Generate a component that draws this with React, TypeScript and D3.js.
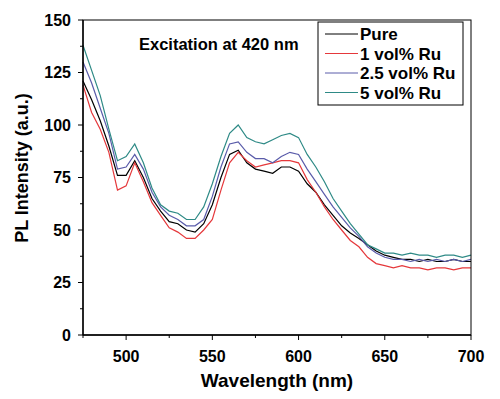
import React from 'react';
import * as d3 from 'd3';

const wavelengths = [
  475, 480, 485, 490, 495, 500, 505, 510, 515, 520, 525, 530, 535, 540, 545, 550,
  555, 560, 565, 570, 575, 580, 585, 590, 595, 600, 605, 610, 615, 620, 625, 630,
  635, 640, 645, 650, 655, 660, 665, 670, 675, 680, 685, 690, 695, 700,
];

const pure = [
  121, 112, 102, 90, 76, 76, 83, 75, 65, 59, 54, 53, 50, 49, 53, 62,
  75, 86, 88, 82, 79, 78, 77, 80, 80, 78, 72, 68, 62, 57, 52, 48.6,
  46, 43, 40, 38, 37, 36, 36, 35, 36, 35, 35, 36, 35, 35,
];
const ru1 = [
  119, 106, 98, 87, 69, 71, 82, 73, 63, 57, 51, 49, 46, 46, 50, 55,
  69, 82, 87, 83, 80, 81, 82, 83, 83, 82, 74, 68, 61, 55, 50, 45,
  42, 37, 34, 33, 32, 33, 32, 32, 31, 32, 32, 31, 32, 32,
];
const ru25 = [
  130, 120, 108, 96, 79, 80, 86, 79, 68, 61, 57, 55, 52, 52, 55, 66,
  80, 91, 92, 87, 84, 84, 82, 85, 87, 86, 79, 73, 67, 61, 56, 51,
  47, 42, 39, 37, 36, 36, 35, 36, 35, 36, 35, 36, 35, 36,
];
const ru5 = [
  138, 126, 114, 98, 83, 85, 91, 82, 70, 62, 59, 58, 55, 55, 61, 72,
  85, 96, 100, 94, 92, 91, 93, 95, 96, 94, 86, 80, 73, 65, 59, 53,
  48, 43, 41, 39, 39, 38, 39, 38, 38, 37, 38, 38, 37, 38,
];

const seriesNames = ['Pure', '1 vol% Ru', '2.5 vol% Ru', '5 vol% Ru'];
const seriesColors = ['#000000', '#e5383b', '#5a5caa', '#2e8a86'];
const seriesValues = [pure, ru1, ru25, ru5];

const xTicks = [500, 550, 600, 650, 700];
const xMinor = [475, 525, 575, 625, 675];
const yTicks = [0, 25, 50, 75, 100, 125, 150];
const yMinor = [12.5, 37.5, 62.5, 87.5, 112.5, 137.5];

const font = '"Liberation Sans", Arial, Helvetica, sans-serif';

export default function App() {
  const left = 83;
  const right = 471;
  const top = 20;
  const bottom = 335;

  const x = d3.scaleLinear().domain([475, 700]).range([left, right]);
  const y = d3.scaleLinear().domain([0, 150]).range([bottom, top]);

  const line = d3
    .line<number>()
    .x((_, i) => x(wavelengths[i]))
    .y((d) => y(d));

  return (
    <svg
      width={500}
      height={399}
      style={{ position: 'absolute', left: 0, top: 0, background: '#fff' }}
      fontFamily={font}
    >
      <rect x={0} y={0} width={500} height={399} fill="#fff" />

      {/* curves */}
      <g fill="none" strokeWidth={1.2}>
        {seriesValues.map((vals, i) => (
          <path key={i} d={line(vals) || ''} stroke={seriesColors[i]} />
        ))}
      </g>

      {/* frame */}
      <rect x={left} y={top} width={right - left} height={bottom - top} fill="none" stroke="#000" strokeWidth={1} />
      <line x1={left} x2={right} y1={bottom} y2={bottom} stroke="#000" strokeWidth={1.4} />
      <line x1={left} x2={left} y1={top} y2={bottom} stroke="#000" strokeWidth={1.4} />

      {/* x ticks */}
      {xTicks.map((t) => (
        <g key={t}>
          <line x1={x(t)} x2={x(t)} y1={bottom} y2={bottom + 5} stroke="#000" strokeWidth={1} />
          <text x={x(t)} y={362} textAnchor="middle" fontSize={16} fontWeight="bold">
            {t}
          </text>
        </g>
      ))}
      {xMinor.map((t) => (
        <line key={t} x1={x(t)} x2={x(t)} y1={bottom} y2={bottom + 3} stroke="#000" strokeWidth={1} />
      ))}

      {/* y ticks */}
      {yTicks.map((t) => (
        <g key={t}>
          <line x1={left - 5} x2={left} y1={y(t)} y2={y(t)} stroke="#000" strokeWidth={1} />
          <text x={71} y={y(t)} dy="0.36em" textAnchor="end" fontSize={16} fontWeight="bold">
            {t}
          </text>
        </g>
      ))}
      {yMinor.map((t) => (
        <line key={t} x1={left - 3} x2={left} y1={y(t)} y2={y(t)} stroke="#000" strokeWidth={1} />
      ))}

      {/* axis titles */}
      <text x={277} y={387} textAnchor="middle" fontSize={19} fontWeight="bold">
        Wavelength (nm)
      </text>
      <text
        transform="translate(28, 168) rotate(-90)"
        textAnchor="middle"
        fontSize={18}
        fontWeight="bold"
      >
        PL Intensity (a.u.)
      </text>

      <text x={139} y={50} fontSize={16.5} fontWeight="bold">
        Excitation at 420 nm
      </text>

      {/* legend */}
      <rect x={318} y={22} width={145} height={83} fill="#fff" stroke="#000" strokeWidth={1} />
      {seriesNames.map((name, i) => (
        <g key={name} transform={`translate(0, ${34 + i * 19.5})`}>
          <line x1={325} x2={358} y1={0} y2={0} stroke={seriesColors[i]} strokeWidth={1} />
          <text x={360} y={0} dy="0.36em" fontSize={17} fontWeight="bold">
            {name}
          </text>
        </g>
      ))}
    </svg>
  );
}
